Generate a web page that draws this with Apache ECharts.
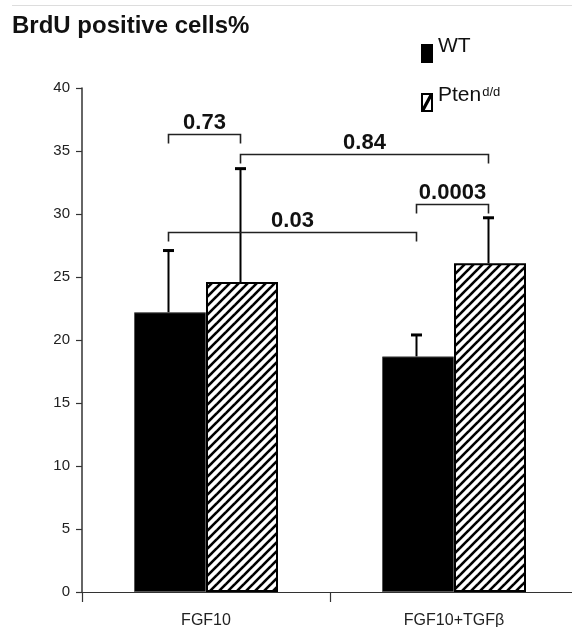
<!DOCTYPE html>
<html>
<head>
<meta charset="utf-8">
<script src="https://cdn.jsdelivr.net/npm/echarts@6/dist/echarts.min.js"></script>
<style>
html,body{margin:0;padding:0;background:#fff;}
#chart{width:572px;height:627px;}
</style>
</head>
<body>
<div id="chart"></div>
<script>
// ---- data ----
const categories = ['FGF10', 'FGF10+TGFβ'];
const seriesNames = ['WT', 'Pten'];
const wtMean = [22.2, 18.7];
const wtSD = [4.9, 1.7];
const ptenMean = [24.6, 26.1];
const ptenSD = [9.0, 3.6];
const yTicks = [0, 5, 10, 15, 20, 25, 30, 35, 40];
// significance brackets: [category, series] endpoints, bracket height (value), p label
const bracketLabels = ['0.73', '0.84', '0.03', '0.0003'];
const bracketFrom = [[0, 0], [0, 1], [0, 0], [1, 0]];
const bracketTo = [[0, 1], [1, 1], [1, 0], [1, 1]];
const bracketLevel = [36.35, 34.8, 28.55, 30.8];

// ---- style constants ----
const FONT = '"Liberation Sans", Arial, Helvetica, sans-serif';
const BAR_W = 72;
const NUDGE = -1.5;

function hatchPattern() {
  const s = 9;
  const c = document.createElement('canvas');
  c.width = s; c.height = s;
  const g = c.getContext('2d');
  g.fillStyle = '#fff';
  g.fillRect(0, 0, s, s);
  g.strokeStyle = '#000';
  g.lineWidth = 2.6;
  g.lineCap = 'square';
  for (let k = -1; k <= 1; k++) {
    g.beginPath();
    g.moveTo(-2 + k * s, s + 2);
    g.lineTo(s + 2 + k * s, -2);
    g.stroke();
  }
  return c;
}

const chart = echarts.init(document.getElementById('chart'), null, {renderer: 'canvas'});

const errData = [];
for (let i = 0; i < categories.length; i++) {
  errData.push([i, 0, wtMean[i], wtMean[i] + wtSD[i]]);
  errData.push([i, 1, ptenMean[i], ptenMean[i] + ptenSD[i]]);
}
const bracketData = bracketLabels.map((l, i) => [bracketFrom[i][0], bracketFrom[i][1], bracketTo[i][0], bracketTo[i][1], bracketLevel[i]]);

function barX(api, cat, s) {
  const p = api.coord([cat, 0]);
  return p[0] + (s === 0 ? -1 : 1) * BAR_W / 2 + NUDGE;
}

const ptenIcon = 'path://M0,0L12,0L12,19L0,19Z M2,2L2,17L10,17L10,2Z M2,17L2,13.5L8.2,2L10,2L10,5.5L3.8,17Z';

const option = {
  backgroundColor: '#fff',
  animation: false,
  title: {
    text: 'BrdU positive cells%',
    left: 12, top: 14, padding: 0,
    textStyle: {fontFamily: FONT, fontWeight: 'bold', fontSize: 24, color: '#111'}
  },
  legend: {
    orient: 'vertical',
    left: 421, top: 36, padding: 0,
    itemWidth: 12, itemHeight: 19, itemGap: 22,
    selectedMode: false,
    itemStyle: {color: '#000', borderWidth: 0},
    data: [
      {name: 'WT', icon: 'rect'},
      {name: 'Pten', icon: ptenIcon}
    ],
    formatter: function (name) {
      return name === 'Pten' ? '{a|Pten}{b|d/d}' : '{a|WT}';
    },
    textStyle: {
      fontFamily: FONT, color: '#111', padding: [0, 0, 14, 0],
      rich: {
        a: {fontFamily: FONT, fontSize: 21, color: '#111', lineHeight: 20},
        b: {fontFamily: FONT, fontSize: 13, color: '#111', lineHeight: 12, verticalAlign: 'top', padding: [0, 0, 0, 1]}
      }
    }
  },
  graphic: [{
    type: 'line', shape: {x1: 12, y1: 5.5, x2: 572, y2: 5.5},
    style: {stroke: '#ddd', lineWidth: 1}, silent: true
  }],
  grid: {left: 82, top: 88, height: 504, width: 496, containLabel: false, outerBoundsMode: 'none'},
  xAxis: {
    type: 'category',
    data: categories,
    axisLine: {lineStyle: {color: '#333', width: 1.2}},
    axisTick: {show: true, length: 10, lineStyle: {color: '#333', width: 1.2}},
    axisLabel: {fontFamily: FONT, fontSize: 16, color: '#222', margin: 21}
  },
  yAxis: {
    type: 'value',
    min: yTicks[0], max: yTicks[yTicks.length - 1], interval: yTicks[1] - yTicks[0],
    axisLine: {show: true, lineStyle: {color: '#333', width: 1.5}},
    axisTick: {show: true, length: 6, lineStyle: {color: '#333', width: 1.2}},
    axisLabel: {fontFamily: FONT, fontSize: 15, color: '#222', margin: 12},
    splitLine: {show: false}
  },
  series: [
    {
      name: seriesNames[0], type: 'bar', data: wtMean,
      barWidth: BAR_W, barGap: '0%',
      itemStyle: {color: '#000', borderColor: '#555', borderWidth: 1}
    },
    {
      name: seriesNames[1], type: 'bar', data: ptenMean,
      barWidth: BAR_W, barGap: '0%',
      itemStyle: {color: {image: hatchPattern(), repeat: 'repeat'}, borderColor: '#000', borderWidth: 2}
    },
    {
      type: 'custom', data: errData, z: 5, silent: true,
      renderItem: function (params, api) {
        const cat = api.value(0), s = api.value(1);
        const x = barX(api, cat, s);
        const y0 = api.coord([cat, api.value(2)])[1];
        const y1 = api.coord([cat, api.value(3)])[1];
        return {
          type: 'group', children: [
            {type: 'line', shape: {x1: x, y1: y0, x2: x, y2: y1}, style: {stroke: '#000', lineWidth: 2}},
            {type: 'line', shape: {x1: x - 5.5, y1: y1, x2: x + 5.5, y2: y1}, style: {stroke: '#000', lineWidth: 3}}
          ]
        };
      }
    },
    {
      type: 'custom', data: bracketData, z: 6, silent: true,
      renderItem: function (params, api) {
        const xa = barX(api, api.value(0), api.value(1));
        const xb = barX(api, api.value(2), api.value(3));
        const y = Math.round(api.coord([0, api.value(4)])[1]) + 0.5;
        const leg = 9;
        return {
          type: 'group', children: [
            {type: 'polyline', shape: {points: [[xa, y + leg], [xa, y], [xb, y], [xb, y + leg]]},
             style: {stroke: '#222', lineWidth: 1.6, fill: null}},
            {type: 'text', style: {
              text: bracketLabels[params.dataIndex], x: (xa + xb) / 2, y: y - 1,
              align: 'center', verticalAlign: 'bottom',
              font: 'bold 22px ' + FONT, fill: '#111'
            }}
          ]
        };
      }
    }
  ]
};
chart.setOption(option);
</script>
</body>
</html>
